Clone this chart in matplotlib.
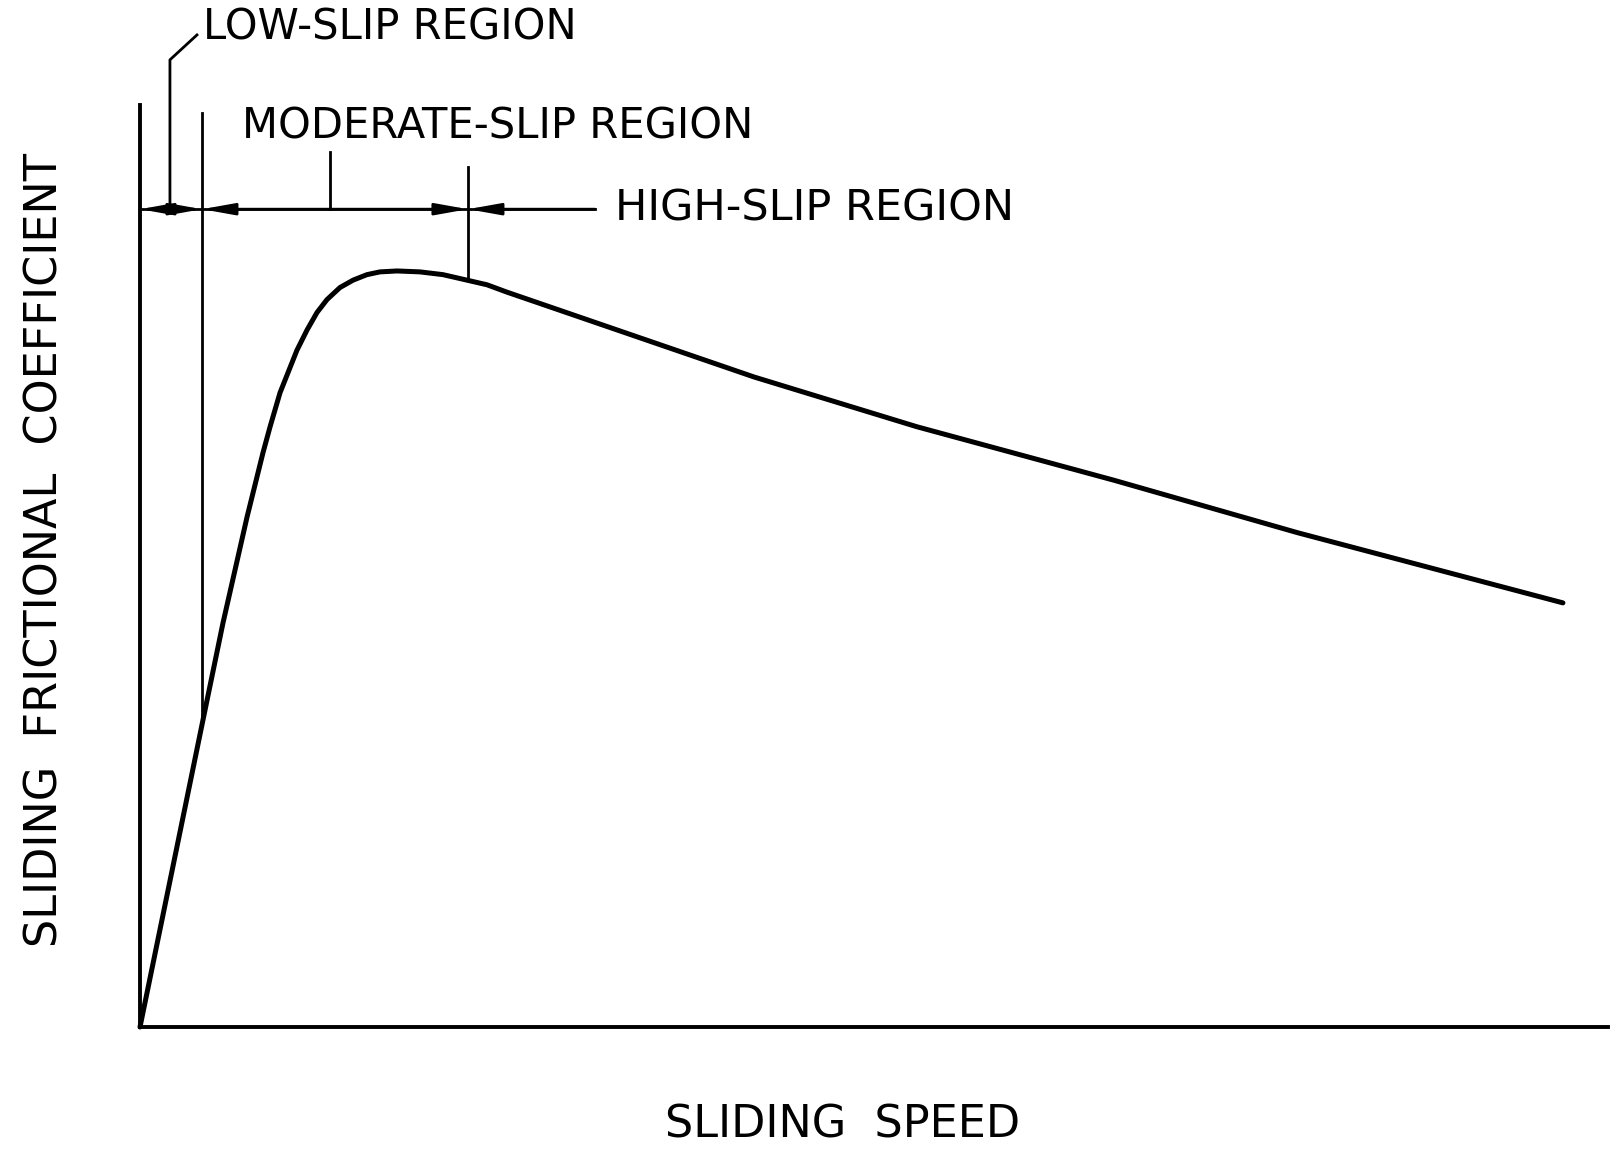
import numpy as np
import matplotlib
matplotlib.use("Agg")
import matplotlib.pyplot as plt

# curve (speed 0-100, coefficient 0-1, arbitrary units)
speed = [0, 4.29, 5.65, 7.29, 8.38, 8.86, 9.54, 9.99, 10.69, 11.38, 12.06,
         12.74, 13.62, 14.51, 15.46, 16.35, 17.51, 19.07, 20.64, 22.28, 23.64,
         25.0, 27.93, 41.83, 52.93, 66.35, 78.88, 96.93]
mu = [0, 0.333, 0.438, 0.553, 0.623, 0.651, 0.688, 0.706, 0.734, 0.756, 0.775,
      0.789, 0.802, 0.810, 0.816, 0.819, 0.820, 0.819, 0.816, 0.810, 0.805,
      0.797, 0.781, 0.705, 0.651, 0.593, 0.536, 0.460]

# region boundaries on the speed axis
low_mid = 2.04        # leader of the low-slip label
mod_edge = 4.22       # low / moderate boundary
mod_mid = 12.94       # leader of the moderate-slip label
high_edge = 22.34     # moderate / high boundary
dim_end = 31.0        # end of dimension line
dim_y = 0.887

fig = plt.figure(figsize=(16.16, 11.51), dpi=100)
ax = fig.add_axes([140/1616, 124/1151, 1468/1616, 922/1151])
ax.set_xlim(0, 100)
ax.set_ylim(0, 1.0)
ax.set_xticks([])
ax.set_yticks([])
for s in ['top', 'right']:
    ax.spines[s].set_visible(False)
for s in ['left', 'bottom']:
    ax.spines[s].set_linewidth(2.8)

ax.plot(speed, mu, color='k', lw=3.6, solid_capstyle='round',
        solid_joinstyle='round', clip_on=False)

thin = dict(color='k', lw=2.0, clip_on=False)
# boundary lines down to the curve
ax.plot([mod_edge, mod_edge], [np.interp(mod_edge, speed, mu), 0.991], **thin)
ax.plot([high_edge, high_edge], [np.interp(high_edge, speed, mu), 0.933], **thin)
# dimension line and label leaders
ax.plot([0, dim_end], [dim_y, dim_y], **thin)
ax.plot([low_mid, low_mid, 3.88], [dim_y, 1.049, 1.076], **thin)
ax.plot([mod_mid, mod_mid], [dim_y, 0.949], **thin)

# arrowheads
aprops = dict(arrowstyle='-|>,head_length=1.4,head_width=0.25', color='k',
              lw=2.0, shrinkA=0, shrinkB=0, mutation_scale=14)
for tip, tail in [(0, low_mid), (mod_edge, low_mid),
                  (mod_edge, mod_mid), (high_edge, mod_mid),
                  (high_edge, dim_end)]:
    ax.annotate('', xy=(tip, dim_y), xytext=(tail, dim_y),
                arrowprops=aprops, annotation_clip=False)

fs = 30
ax.text(4.29, 1.0705, 'LOW-SLIP REGION', fontsize=fs, va='baseline', ha='left', clip_on=False)
ax.text(6.95, 0.964, 'MODERATE-SLIP REGION', fontsize=fs, va='baseline', ha='left', clip_on=False)
ax.text(32.36, 0.875, 'HIGH-SLIP REGION', fontsize=31, va='baseline', ha='left', clip_on=False)

fig.text(843/1616, 1 - 1147/1151, 'SLIDING  SPEED', fontsize=32, ha='center', va='bottom')
fig.text(45/1616, 1 - 550/1151, 'SLIDING  FRICTIONAL  COEFFICIENT', fontsize=32,
         rotation=90, ha='center', va='center')

fig.savefig('out.png', dpi=100, facecolor='white')
